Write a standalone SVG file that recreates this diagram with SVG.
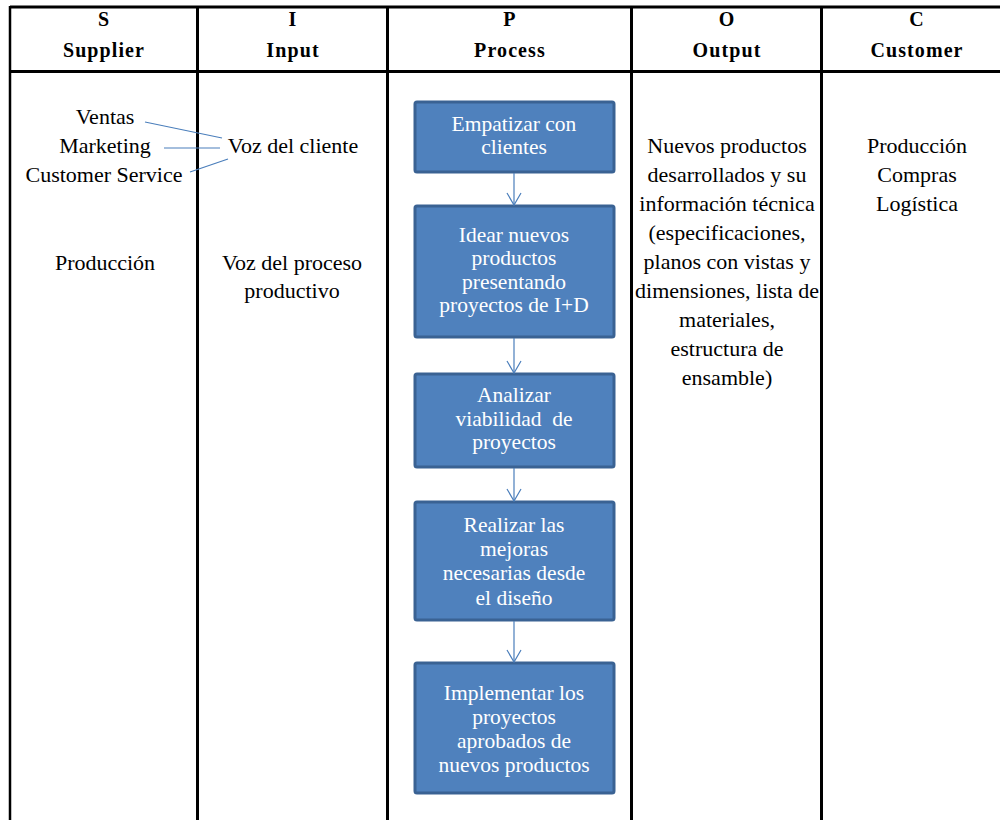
<svg xmlns="http://www.w3.org/2000/svg" width="1000" height="820" viewBox="0 0 1000 820">
<style>
.grid{stroke:#000;stroke-width:3;fill:none}
.hdr{font-family:"Liberation Serif","Times New Roman",serif;font-weight:bold;font-size:20px;letter-spacing:1.1px;text-anchor:middle;fill:#000}
.txt{font-family:"Liberation Serif","Times New Roman",serif;font-size:22px;text-anchor:middle;fill:#000}
.box{fill:#4f81bd;stroke:#3a6293;stroke-width:3}
.btxt{font-family:"Liberation Serif","Times New Roman",serif;font-size:21.5px;text-anchor:middle;fill:#fff}
.link{stroke:#4a7ebb;stroke-width:1.2;fill:none}
</style>
<defs>
<marker id="chev" viewBox="-14 -8 16 16" refX="0" refY="0" markerWidth="16" markerHeight="16" markerUnits="userSpaceOnUse" orient="auto">
<path d="M-12,-7 L0,0 L-12,7" fill="none" stroke="#4a7ebb" stroke-width="1.2"/>
</marker>
</defs>
<rect width="1000" height="820" fill="#fff"/>
<g id="table">
<line class="grid" x1="10" y1="7" x2="1000" y2="7"/>
<line class="grid" x1="10" y1="71.5" x2="1000" y2="71.5"/>
<line class="grid" x1="10" y1="6" x2="10" y2="820" style="stroke-width:2.5"/>
<line class="grid" x1="197.5" y1="6" x2="197.5" y2="820"/>
<line class="grid" x1="387.5" y1="6" x2="387.5" y2="820"/>
<line class="grid" x1="631.5" y1="6" x2="631.5" y2="820"/>
<line class="grid" x1="821.5" y1="6" x2="821.5" y2="820"/>
</g>
<g id="headers">
<text class="hdr" x="104" y="26">S</text>
<text class="hdr" x="104" y="57">Supplier</text>
<text class="hdr" x="293" y="26">I</text>
<text class="hdr" x="293" y="57">Input</text>
<text class="hdr" x="510" y="26">P</text>
<text class="hdr" x="510" y="57">Process</text>
<text class="hdr" x="727" y="26">O</text>
<text class="hdr" x="727" y="57">Output</text>
<text class="hdr" x="917" y="26">C</text>
<text class="hdr" x="917" y="57">Customer</text>
</g>
<g id="supplier">
<text class="txt" x="105" y="124">Ventas</text>
<text class="txt" x="105" y="153">Marketing</text>
<text class="txt" x="104" y="182">Customer Service</text>
<text class="txt" x="105" y="270">Producción</text>
</g>
<g id="input">
<text class="txt" x="293" y="153">Voz del cliente</text>
<text class="txt" x="292" y="270">Voz del proceso</text>
<text class="txt" x="292" y="298">productivo</text>
</g>
<g id="output">
<text class="txt" x="727" y="153">Nuevos productos</text>
<text class="txt" x="727" y="182">desarrollados y su</text>
<text class="txt" x="727" y="211">información técnica</text>
<text class="txt" x="727" y="240">(especificaciones,</text>
<text class="txt" x="727" y="269">planos con vistas y</text>
<text class="txt" x="727" y="298">dimensiones, lista de</text>
<text class="txt" x="727" y="327">materiales,</text>
<text class="txt" x="727" y="356">estructura de</text>
<text class="txt" x="727" y="385">ensamble)</text>
</g>
<g id="customer">
<text class="txt" x="917" y="153">Producción</text>
<text class="txt" x="917" y="182">Compras</text>
<text class="txt" x="917" y="211">Logística</text>
</g>
<g id="p1">
<rect class="box" x="415" y="102" width="199" height="70" rx="2"/>
<text class="btxt" x="514" y="131">Empatizar con</text>
<text class="btxt" x="514" y="154">clientes</text>
</g>
<g id="p2">
<rect class="box" x="415" y="206" width="199" height="131" rx="2"/>
<text class="btxt" x="514" y="242">Idear nuevos</text>
<text class="btxt" x="514" y="265">productos</text>
<text class="btxt" x="514" y="289">presentando</text>
<text class="btxt" x="514" y="312">proyectos de I+D</text>
</g>
<g id="p3">
<rect class="box" x="415" y="374" width="199" height="93" rx="2"/>
<text class="btxt" x="514" y="402">Analizar</text>
<text class="btxt" x="514" y="426" xml:space="preserve">viabilidad  de</text>
<text class="btxt" x="514" y="449">proyectos</text>
</g>
<g id="p4">
<rect class="box" x="415" y="502" width="199" height="118" rx="2"/>
<text class="btxt" x="514" y="532">Realizar las</text>
<text class="btxt" x="514" y="556">mejoras</text>
<text class="btxt" x="514" y="580">necesarias desde</text>
<text class="btxt" x="514" y="605">el diseño</text>
</g>
<g id="p5">
<rect class="box" x="415" y="663" width="199" height="130" rx="2"/>
<text class="btxt" x="514" y="700">Implementar los</text>
<text class="btxt" x="514" y="724">proyectos</text>
<text class="btxt" x="514" y="748">aprobados de</text>
<text class="btxt" x="514" y="772">nuevos productos</text>
</g>
<g id="connectors">
<line class="link" x1="145" y1="122" x2="222" y2="138"/>
<line class="link" x1="164" y1="148" x2="220" y2="148"/>
<line class="link" x1="190" y1="172" x2="228" y2="159"/>
<line class="link" x1="514" y1="173" x2="514" y2="205" marker-end="url(#chev)"/>
<line class="link" x1="514" y1="338" x2="514" y2="373" marker-end="url(#chev)"/>
<line class="link" x1="514" y1="468" x2="514" y2="501" marker-end="url(#chev)"/>
<line class="link" x1="514" y1="621" x2="514" y2="662" marker-end="url(#chev)"/>
</g>
</svg>
